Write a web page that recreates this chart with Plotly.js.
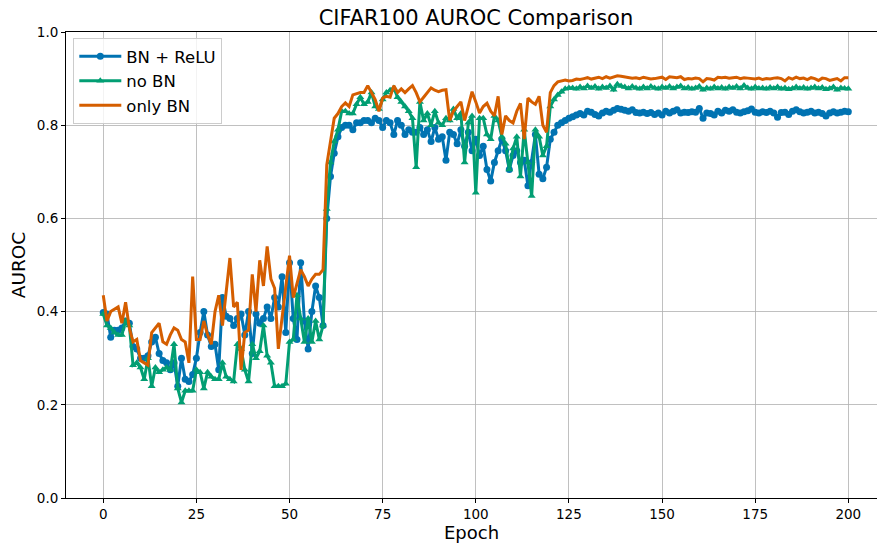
<!DOCTYPE html>
<html>
<head>
<meta charset="utf-8">
<script src="https://cdn.plot.ly/plotly-3.0.1.min.js"></script>
<style>html,body{margin:0;padding:0;background:#fff;}#chart{width:877px;height:543px;}</style>
</head>
<body>
<div id="chart"></div>
<script>
// ---- data ----
var seriesNames = ["BN + ReLU", "no BN", "only BN"];

var bnRelu = [
0.398,0.395,0.345,0.36,0.36,0.365,0.38,0.375,0.325,0.32,
0.30,0.30,0.305,0.335,0.345,0.31,0.295,0.29,0.275,0.29,
0.24,0.30,0.255,0.25,0.265,0.30,0.355,0.40,0.35,0.325,
0.33,0.275,0.43,0.39,0.385,0.37,0.385,0.395,0.35,0.40,
0.31,0.395,0.375,0.385,0.41,0.385,0.43,0.41,0.475,0.355,
0.505,0.385,0.34,0.505,0.38,0.32,0.40,0.455,0.43,0.37,
0.60,0.69,0.74,0.775,0.795,0.80,0.80,0.79,0.805,0.805,
0.81,0.81,0.805,0.815,0.81,0.795,0.81,0.805,0.78,0.81,
0.80,0.78,0.79,0.785,0.785,0.795,0.78,0.79,0.765,0.795,
0.77,0.775,0.725,0.785,0.78,0.76,0.79,0.755,0.785,0.745,
0.77,0.735,0.755,0.705,0.68,0.72,0.745,0.77,0.745,0.705,
0.735,0.745,0.72,0.725,0.67,0.72,0.78,0.695,0.685,0.71,
0.77,0.785,0.80,0.805,0.81,0.815,0.818,0.822,0.825,0.822,
0.83,0.828,0.823,0.82,0.826,0.83,0.828,0.832,0.836,0.834,
0.832,0.83,0.833,0.827,0.826,0.828,0.825,0.827,0.823,0.826,
0.822,0.83,0.826,0.83,0.833,0.826,0.828,0.827,0.829,0.828,
0.836,0.815,0.826,0.825,0.822,0.83,0.826,0.832,0.83,0.833,
0.828,0.826,0.829,0.831,0.835,0.828,0.826,0.829,0.827,0.83,
0.826,0.817,0.827,0.828,0.823,0.83,0.833,0.829,0.826,0.828,
0.83,0.826,0.828,0.825,0.82,0.826,0.829,0.826,0.828,0.83,
0.829
];

var noBn = [
0.395,0.37,0.365,0.355,0.35,0.35,0.38,0.37,0.285,0.29,
0.28,0.255,0.30,0.24,0.28,0.27,0.275,0.28,0.275,0.33,
0.235,0.205,0.23,0.23,0.23,0.275,0.27,0.235,0.27,0.26,
0.255,0.255,0.29,0.26,0.255,0.25,0.33,0.32,0.275,0.25,
0.33,0.30,0.315,0.37,0.305,0.29,0.24,0.24,0.24,0.245,
0.335,0.34,0.435,0.385,0.335,0.385,0.335,0.38,0.34,0.37,
0.62,0.72,0.765,0.79,0.83,0.83,0.825,0.825,0.845,0.86,
0.845,0.85,0.87,0.84,0.835,0.855,0.87,0.875,0.88,0.86,
0.85,0.84,0.83,0.815,0.71,0.85,0.81,0.825,0.80,0.83,
0.805,0.80,0.815,0.81,0.835,0.815,0.825,0.72,0.805,0.82,
0.655,0.815,0.815,0.78,0.77,0.82,0.81,0.775,0.76,0.705,
0.75,0.775,0.69,0.79,0.72,0.648,0.79,0.775,0.735,0.755,
0.84,0.855,0.865,0.872,0.878,0.88,0.88,0.878,0.882,0.879,
0.884,0.88,0.883,0.878,0.882,0.88,0.884,0.876,0.888,0.884,
0.882,0.879,0.883,0.88,0.878,0.882,0.879,0.883,0.88,0.878,
0.882,0.88,0.883,0.879,0.882,0.884,0.879,0.881,0.878,0.88,
0.883,0.876,0.88,0.878,0.882,0.879,0.881,0.878,0.882,0.88,
0.883,0.879,0.885,0.88,0.878,0.882,0.879,0.88,0.878,0.881,
0.879,0.882,0.878,0.88,0.877,0.879,0.882,0.879,0.881,0.878,
0.88,0.882,0.879,0.881,0.877,0.879,0.882,0.876,0.88,0.879,
0.878
];

var onlyBn = [
0.435,0.38,0.40,0.405,0.41,0.375,0.42,0.365,0.335,0.34,
0.295,0.29,0.285,0.355,0.365,0.375,0.335,0.33,0.35,0.365,
0.36,0.34,0.335,0.29,0.475,0.34,0.34,0.38,0.35,0.33,
0.40,0.435,0.37,0.45,0.515,0.41,0.42,0.275,0.355,0.36,
0.48,0.40,0.51,0.455,0.54,0.47,0.45,0.32,0.39,0.45,
0.52,0.43,0.46,0.49,0.475,0.455,0.47,0.48,0.48,0.49,
0.715,0.77,0.815,0.825,0.84,0.848,0.84,0.865,0.868,0.87,
0.87,0.885,0.87,0.855,0.83,0.858,0.862,0.86,0.885,0.87,
0.878,0.87,0.878,0.885,0.87,0.85,0.86,0.87,0.88,0.875,
0.872,0.875,0.876,0.81,0.83,0.84,0.85,0.81,0.84,0.872,
0.85,0.826,0.84,0.847,0.83,0.82,0.862,0.78,0.82,0.81,
0.805,0.83,0.847,0.77,0.858,0.85,0.845,0.862,0.80,0.785,
0.87,0.885,0.893,0.895,0.897,0.895,0.896,0.899,0.898,0.9,
0.902,0.899,0.901,0.903,0.9,0.904,0.901,0.903,0.906,0.905,
0.904,0.903,0.901,0.902,0.9,0.903,0.901,0.899,0.9,0.902,
0.903,0.898,0.904,0.903,0.902,0.904,0.898,0.9,0.899,0.901,
0.9,0.893,0.9,0.899,0.897,0.903,0.902,0.903,0.901,0.902,
0.903,0.9,0.902,0.901,0.9,0.899,0.901,0.898,0.9,0.899,
0.901,0.902,0.9,0.895,0.902,0.899,0.903,0.9,0.901,0.898,
0.902,0.9,0.896,0.901,0.9,0.896,0.898,0.9,0.895,0.902,
0.902
];

var epochs = [];
for (var i = 0; i < bnRelu.length; i++) epochs.push(i);

var xTicks = [0, 25, 50, 75, 100, 125, 150, 175, 200];
var yTicks = [0.0, 0.2, 0.4, 0.6, 0.8, 1.0];
var yTickText = ["0.0", "0.2", "0.4", "0.6", "0.8", "1.0"];

// ---- chart ----
var font = "DejaVu Sans, sans-serif";
var traces = [
  {x: epochs, y: bnRelu, name: seriesNames[0], type: "scatter", mode: "lines+markers",
   line: {color: "#0173B2", width: 3}, marker: {symbol: "circle", size: 7, color: "#0173B2"}},
  {x: epochs, y: noBn, name: seriesNames[1], type: "scatter", mode: "lines+markers",
   line: {color: "#029E73", width: 3}, marker: {symbol: "triangle-up", size: 7, color: "#029E73"}},
  {x: epochs, y: onlyBn, name: seriesNames[2], type: "scatter", mode: "lines",
   line: {color: "#D55E00", width: 3}}
];

var axisCommon = {
  showgrid: true, gridcolor: "#b0b0b0", gridwidth: 0.8,
  zeroline: false, showline: true, linecolor: "#000", linewidth: 1,
  ticks: "outside", ticklen: 4, tickwidth: 1, tickcolor: "#000",
  tickfont: {family: font, size: 13.5, color: "#000"}
};

var layout = {
  width: 877, height: 543,
  margin: {l: 66, r: 0, t: 32, b: 45},
  paper_bgcolor: "#fff", plot_bgcolor: "#fff",
  title: {text: "CIFAR100 AUROC Comparison", font: {family: font, size: 21, color: "#000"},
          xref: "paper", x: 0.5055, xanchor: "center", yref: "container", y: 0.967, yanchor: "middle"},
  xaxis: Object.assign({}, axisCommon, {
    range: [-10, 207.7], tickvals: xTicks, mirror: true,
    title: {text: "Epoch", font: {family: font, size: 18, color: "#000"}, standoff: 6}
  }),
  yaxis: Object.assign({}, axisCommon, {
    range: [0, 1], tickvals: yTicks, ticktext: yTickText, mirror: false,
    title: {text: "AUROC", font: {family: font, size: 18.5, color: "#000"}, standoff: 6}
  }),
  showlegend: true,
  legend: {x: 0.009, y: 0.987, xanchor: "left", yanchor: "top",
           bgcolor: "rgba(255,255,255,0.8)", bordercolor: "#cccccc", borderwidth: 1,
           itemwidth: 42,
           font: {family: font, size: 16.5, color: "#000"}}
};

Plotly.newPlot("chart", traces, layout, {staticPlot: true, displayModeBar: false});
</script>
</body>
</html>
